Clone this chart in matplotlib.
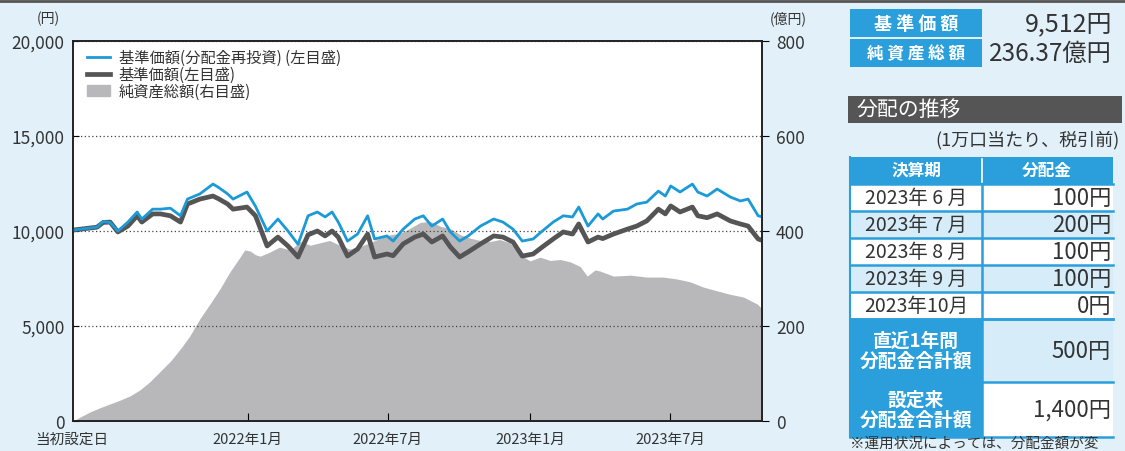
import matplotlib
matplotlib.use("Agg")
import matplotlib.pyplot as plt
from matplotlib.patches import Rectangle
from matplotlib.lines import Line2D
from matplotlib.patches import Patch
import pandas as pd

plt.rcParams['font.family'] = ['Noto Sans CJK JP', 'DejaVu Sans']

# --- data ---
launch = pd.Timestamp('2021-05-20')
last_day = 891

line_days = [0, 31, 39, 48, 58, 71, 83, 89, 103, 113, 126, 139, 148, 164, 181, 188, 200, 207, 225, 236,
             251, 265, 278, 291, 304, 316, 326, 335, 343, 355, 368, 381, 390, 406, 414, 427, 442, 453, 464, 478,
             488, 500, 511, 527, 544, 556, 569, 581, 595, 607, 621, 634, 646, 654, 666, 679, 685, 699, 717, 729,
             742, 757, 766, 773, 785, 801, 808, 820, 833, 850, 863, 873, 886, 891]
nav_reinvest = [10050, 10200, 10500, 10450, 10000, 10470, 11000, 10630, 11150, 11150, 11200, 10800, 11680, 11950,
                12470, 12300, 11950, 11680, 12050, 11300, 10000, 10630, 10000, 9300, 10800, 11000, 10740, 11000,
                10470, 9470, 9840, 10800, 9580, 9740, 9470, 10100, 10630, 10800, 10260, 10630, 9950, 9470, 9740,
                10260, 10630, 10470, 10100, 9470, 9580, 10000, 10470, 10800, 10740, 11260, 10260, 10900, 10630,
                11050, 11150, 11420, 11520, 12100, 11840, 12370, 12050, 12470, 12050, 11840, 12210, 11790, 11580,
                11680, 10800, 10750]
nav = [10050, 10200, 10450, 10470, 9950, 10260, 10800, 10470, 10900, 10900, 10800, 10470, 11420, 11680, 11840,
       11700, 11420, 11150, 11260, 10800, 9210, 9680, 9210, 8630, 9800, 10000, 9740, 10000, 9680, 8680, 9050,
       9840, 8630, 8790, 8700, 9320, 9680, 9840, 9420, 9740, 9160, 8630, 8900, 9320, 9740, 9680, 9420, 8680,
       8790, 9160, 9580, 9950, 9840, 10370, 9420, 9680, 9600, 9840, 10100, 10260, 10530, 11150, 10900, 11320,
       11000, 11260, 10800, 10700, 10900, 10530, 10370, 10260, 9580, 9512]

asset_days = [0, 9, 22, 35, 48, 61, 74, 87, 99, 112, 126, 139, 151, 164, 177, 190, 203, 216, 222, 229,
              236, 242, 255, 267, 281, 294, 307, 319, 332, 345, 358, 372, 384, 397, 410, 423, 435, 449, 462, 475,
              488, 501, 513, 527, 540, 552, 565, 578, 591, 604, 617, 630, 643, 656, 665, 675, 681, 699, 721, 742,
              763, 781, 798, 815, 833, 849, 867, 885, 891]
net_assets = [0, 8, 19, 28, 36, 44, 53, 66, 82, 103, 126, 152, 179, 215, 246, 278, 314, 345, 360, 358,
              350, 347, 356, 366, 360, 378, 370, 375, 380, 370, 362, 368, 375, 385, 392, 395, 405, 418, 420, 410,
              405, 392, 385, 380, 378, 382, 375, 350, 337, 345, 338, 340, 335, 325, 305, 318, 316, 305, 307, 303,
              303, 299, 293, 282, 274, 267, 261, 246, 236.37]

tick_dates = ['2022-01-01', '2022-07-01', '2023-01-01', '2023-07-01']
tick_labels = ['2022年1月', '2022年7月', '2023年1月', '2023年7月']
left_ticks = [0, 5000, 10000, 15000, 20000]
right_ticks = [0, 200, 400, 600, 800]

periods = ['2023年 6 月', '2023年 7 月', '2023年 8 月', '2023年 9 月', '2023年10月']
dist = ['100円', '200円', '100円', '100円', '0円']
total_labels = ['直近1年間\n分配金合計額', '設定来\n分配金合計額']
total_values = ['500円', '1,400円']

BG = '#e2f1f9'
BLUE = '#2a9fdb'
LIGHT = '#d6ecf8'
TXT = '#333333'
W, H = 1125, 452


def fx(x):
    return x / W


def fy(y):
    return 1 - y / H


fig = plt.figure(figsize=(11.25, 4.52), dpi=100)
fig.patch.set_facecolor(BG)
fig.add_artist(Line2D([0, 1], [fy(2), fy(2)], color='#555555', lw=2))

# --- chart ---
ax2 = fig.add_axes([fx(73), fy(422), fx(762 - 73), (422 - 42) / H])
ax = ax2.twinx()
ax.set_zorder(ax2.get_zorder() + 1)
ax.patch.set_visible(False)
ax2.set_facecolor('white')

line_dates = launch + pd.to_timedelta(line_days, unit='D')
asset_dates = launch + pd.to_timedelta(asset_days, unit='D')

ax2.fill_between(asset_dates, net_assets, color='#b8b8ba', lw=0)
ax.plot(line_dates, nav, color='#555555', lw=3.4)
ax.plot(line_dates, nav_reinvest, color='#1b9ad7', lw=2.0)

# yen scale on the left, 億円 scale on the right
ax.yaxis.tick_left()
ax2.yaxis.tick_right()
ax.set_ylim(0, 20000)
ax2.set_ylim(0, 800)
ax.set_yticks(left_ticks)
ax.set_yticklabels([f'{v:,}' for v in left_ticks], fontsize=12.5, color=TXT)
ax2.set_yticks(right_ticks)
ax2.set_yticklabels([str(v) for v in right_ticks], fontsize=12.5, color=TXT)
ax.tick_params(axis='y', direction='in', length=4, pad=6)
ax2.tick_params(axis='y', direction='out', length=5, pad=5)
ax.grid(axis='y', color='#444444', ls=(0, (1, 2)), lw=0.9)

ax2.set_xlim(launch, launch + pd.Timedelta(days=last_day))
ax2.set_xticks(pd.to_datetime(tick_dates))
ax2.set_xticklabels(tick_labels, fontsize=10.5, color=TXT)
ax2.tick_params(axis='x', direction='in', length=6, pad=8)
for a in (ax, ax2):
    for s in a.spines.values():
        s.set_color('#222222')
        s.set_linewidth(1.2)

fig.text(fx(72), fy(440), '当初設定日', fontsize=10.5, color=TXT, ha='center', va='center')
fig.text(fx(48), fy(19), '(円)', fontsize=10, color=TXT, ha='center', va='center')
fig.text(fx(788), fy(19), '(億円)', fontsize=10, color=TXT, ha='center', va='center')

handles = [Line2D([], [], color='#1b9ad7', lw=2.0),
           Line2D([], [], color='#555555', lw=3.4),
           Patch(color='#b8b8ba')]
ax.legend(handles, ['基準価額(分配金再投資) (左目盛)', '基準価額(左目盛)', '純資産総額(右目盛)'],
          loc='upper left', bbox_to_anchor=(0.0, 1.015), frameon=False, fontsize=11,
          handlelength=1.5, handletextpad=0.6, labelspacing=0.0, labelcolor=TXT)

# --- right panel ---
def box(x0, y0, x1, y1, color):
    fig.add_artist(Rectangle((fx(x0), fy(y1)), fx(x1 - x0), (y1 - y0) / H,
                             transform=fig.transFigure, facecolor=color, edgecolor='none'))


box(850, 10, 982, 38, BLUE)
box(850, 40, 982, 68, BLUE)
fig.text(fx(916), fy(24), '基 準 価 額', fontsize=13, color='white', weight='bold', ha='center', va='center')
fig.text(fx(916), fy(54), '純 資 産 総 額', fontsize=12, color='white', weight='bold', ha='center', va='center')
fig.text(fx(1112), fy(24), '9,512円', fontsize=18, color=TXT, ha='right', va='center')
fig.text(fx(1112), fy(54), '236.37億円', fontsize=17.5, color=TXT, ha='right', va='center')

box(848, 97, 1122, 124, '#555555')
fig.text(fx(857), fy(110), '分配の推移', fontsize=15, color='white', ha='left', va='center')
fig.text(fx(1120), fy(140), '(1万口当たり、税引前)', fontsize=13, color=TXT, ha='right', va='center')

box(850, 158, 1113, 185, BLUE)
fig.text(fx(916), fy(171), '決算期', fontsize=12, color='white', weight='bold', ha='center', va='center')
fig.text(fx(1047), fy(171), '分配金', fontsize=12, color='white', weight='bold', ha='center', va='center')

row_h = 27
for i, (p, d) in enumerate(zip(periods, dist)):
    y0 = 185 + i * row_h
    box(850, y0, 1113, y0 + row_h, LIGHT if i % 2 else 'white')
    fig.text(fx(916), fy(y0 + row_h / 2), p, fontsize=14, color=TXT, ha='center', va='center')
    fig.text(fx(1111), fy(y0 + row_h / 2), d, fontsize=16, color=TXT, ha='right', va='center')

tot_edges = [320, 383, 438]
for i, (lab, val) in enumerate(zip(total_labels, total_values)):
    y0, y1 = tot_edges[i], tot_edges[i + 1]
    box(850, y0, 982, y1, BLUE)
    box(982, y0, 1113, y1, LIGHT if i == 0 else 'white')
    fig.text(fx(916), fy((y0 + y1) / 2), lab, fontsize=13.5, color='white', weight='bold',
             ha='center', va='center', linespacing=1.05)
    fig.text(fx(1111), fy((y0 + y1) / 2), val, fontsize=16, color=TXT, ha='right', va='center')

# blue rules of the table
for y in [185 + i * row_h for i in range(6)] + tot_edges:
    fig.add_artist(Line2D([fx(850), fx(1113)], [fy(y), fy(y)], color=BLUE, lw=1.8))
fig.add_artist(Line2D([fx(982), fx(982)], [fy(185), fy(438)], color=BLUE, lw=1.8))
fig.add_artist(Line2D([fx(982), fx(982)], [fy(160), fy(183)], color='white', lw=1.2))
fig.add_artist(Line2D([fx(850), fx(850)], [fy(158), fy(438)], color=BLUE, lw=1.5))

fig.text(fx(850), fy(451), '※運用状況によっては、分配金額が変', fontsize=10.5, color=TXT, ha='left', va='bottom')

fig.savefig('out.png', dpi=100, facecolor=BG)
